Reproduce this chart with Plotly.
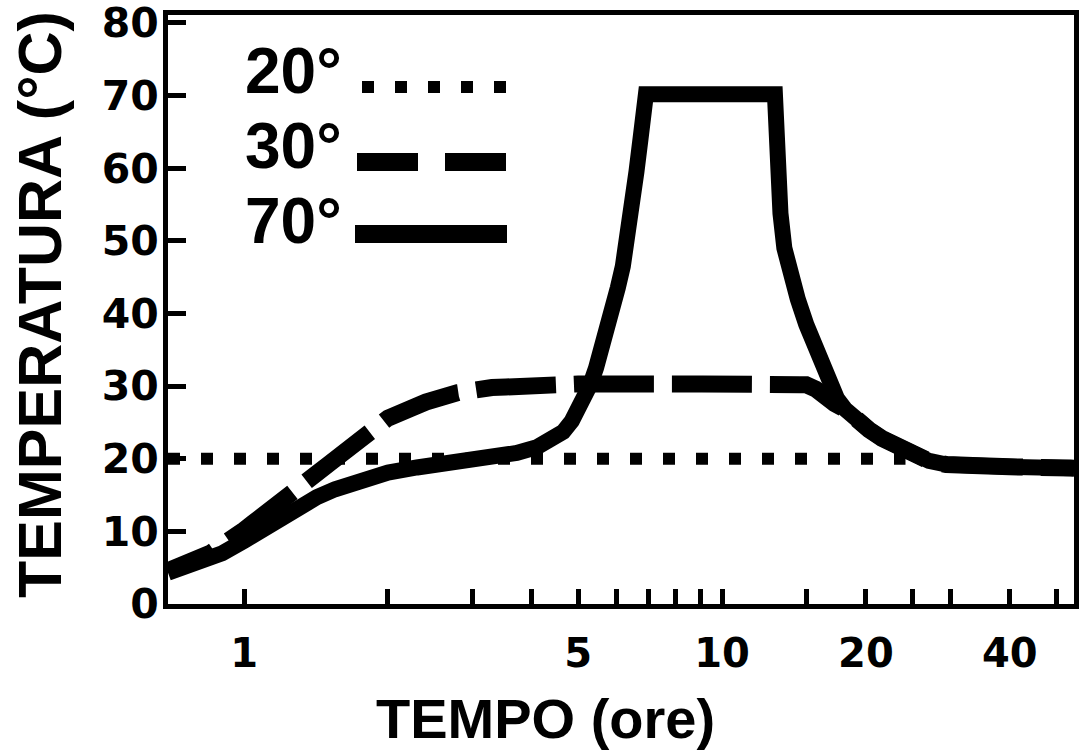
import plotly.graph_objects as go
import math

# ---- data ----
hours_20 = [0.693, 24.2]
temp_20 = [20.0, 20.0]

hours_30 = [0.693, 0.85, 1.0, 1.2, 1.4, 1.6, 1.8, 2.0, 2.4, 2.8, 3.3, 4.0, 5.0, 8.0,
            12.0, 15.0, 15.7, 16.4, 17.2, 18.1, 19.0, 20.3, 21.6, 23.1, 25.0, 27.1, 29.5,
            31.9, 40.0, 54.5]
temp_30 = [4.6, 7.0, 10.2, 14.2, 18.0, 21.0, 23.5, 25.6, 27.8, 29.1, 29.8, 30.2, 30.3, 30.3,
           30.3, 30.2, 29.6, 28.4, 27.6, 26.8, 25.3, 24.0, 22.8, 21.7, 20.6, 19.7, 19.2,
           19.0, 18.9, 18.7]

hours_70 = [0.693, 0.8, 0.9, 1.0, 1.1, 1.2, 1.3, 1.42, 1.55, 1.7, 1.85, 2.0, 2.3, 2.7, 3.2,
            3.72, 4.1, 4.4, 4.65, 4.85, 5.0, 5.15, 5.3, 5.45, 5.6, 5.75, 5.9, 6.05, 6.2,
            6.35, 6.5, 6.62, 6.75, 6.85, 6.93, 12.9, 12.95, 13.0, 13.25, 13.5, 13.9, 14.4,
            15.0, 15.8, 16.3, 16.8, 17.4, 18.1, 19.0, 20.3, 21.6, 23.1, 25.0, 27.1, 29.5,
            31.9, 40.0, 54.5]
temp_70 = [4.3, 5.6, 7.0, 8.7, 10.4, 12.0, 13.4, 14.7, 15.8, 16.8, 17.5, 18.1, 18.8, 19.4,
           20.0, 20.8, 21.6, 22.5, 23.7, 25.2, 26.6, 28.3, 30.2, 32.5, 35.0, 37.5, 40.3,
           43.5, 46.5, 50.5, 55.0, 59.5, 64.0, 67.5, 70.2, 70.2, 64.5, 59.5, 53.8, 49.0,
           45.2, 42.0, 38.5, 35.0, 32.3, 30.2, 28.3, 26.8, 25.3, 24.0, 22.8, 21.7, 20.6,
           19.7, 19.2, 19.0, 18.9, 18.7]

x_tickvals = [1, 2, 3, 4, 5, 6, 7, 8, 9, 10, 15, 20, 25, 30, 40, 50]
x_ticktext = ['1', '', '', '', '5', '', '', '', '', '10', '', '20', '', '', '40', '']
y_tickvals = [0, 10, 20, 30, 40, 50, 60, 70, 80]

legend_labels = ['20°', '30°', '70°']

x_title = 'TEMPO (ore)'
y_title = 'TEMPERATURA (°C)'

# ---- figure ----
BLACK = '#000000'
fig = go.Figure()
fig.add_trace(go.Scatter(x=hours_20, y=temp_20, mode='lines',
                         line=dict(color=BLACK, width=12, dash='12px,21px'),
                         showlegend=False, hoverinfo='skip'))
fig.add_trace(go.Scatter(x=hours_30, y=temp_30, mode='lines',
                         line=dict(color=BLACK, width=17, dash='50px,18px,30px,0px'),
                         showlegend=False, hoverinfo='skip'))
fig.add_trace(go.Scatter(x=hours_70, y=temp_70, mode='lines',
                         line=dict(color=BLACK, width=16),
                         showlegend=False, hoverinfo='skip'))

L, R, T, B = 168, 1074, 15, 604
W, H = 1085, 754

def px(x):
    return (x - L) / (R - L)

def py(y):
    return (B - y) / (B - T)

tick_font = dict(family='DejaVu Sans', size=41, color=BLACK, weight='bold')

fig.update_xaxes(type='log', range=[math.log10(0.693), math.log10(54.5)],
                 tickvals=x_tickvals, ticktext=x_ticktext,
                 ticks='inside', ticklen=15, tickwidth=5, tickcolor=BLACK,
                 showline=True, linewidth=5, linecolor=BLACK, mirror=True,
                 showgrid=False, zeroline=False, tickfont=dict(tick_font, size=40),
                 ticklabelstandoff=10, automargin=False, ticklabeloverflow='allow')
fig.update_yaxes(range=[0, 81.1], tickvals=y_tickvals,
                 ticks='inside', ticklen=18, tickwidth=5, tickcolor=BLACK,
                 showline=True, linewidth=5, linecolor=BLACK, mirror=True,
                 showgrid=False, zeroline=False, tickfont=tick_font,
                 ticklabelstandoff=-4, automargin=False, ticklabeloverflow='allow')

title_font = dict(family='Liberation Sans, Arial', color=BLACK, weight='bold')
annotations = [
    dict(text=y_title, x=px(40), y=py(305), xref='paper', yref='paper',
         textangle=-90, showarrow=False, xanchor='center', yanchor='middle',
         font=dict(title_font, size=61)),
    dict(text=x_title, x=px(545), y=py(718), xref='paper', yref='paper',
         showarrow=False, xanchor='center', yanchor='middle',
         font=dict(title_font, size=56)),
]
leg_font = dict(family='Liberation Sans, Arial', size=64, color=BLACK, weight='bold')
for lab, yc in zip(legend_labels, [71, 146, 221]):
    annotations.append(dict(text=lab, x=px(243), y=py(yc), xref='paper', yref='paper',
                            showarrow=False, xanchor='left', yanchor='middle',
                            font=leg_font))

shapes = [
    dict(type='line', xref='paper', yref='paper', x0=px(362), x1=px(506), y0=py(87), y1=py(87),
         line=dict(color=BLACK, width=12, dash='12px,21px')),
    dict(type='line', xref='paper', yref='paper', x0=px(357), x1=px(507), y0=py(162), y1=py(162),
         line=dict(color=BLACK, width=18, dash='61px,27px')),
    dict(type='line', xref='paper', yref='paper', x0=px(355), x1=px(507), y0=py(234), y1=py(234),
         line=dict(color=BLACK, width=18)),
]

fig.update_layout(template='none', width=W, height=H,
                  margin=dict(l=L, r=W - R, t=T, b=H - B, pad=0, autoexpand=False),
                  paper_bgcolor='white', plot_bgcolor='white',
                  annotations=annotations, shapes=shapes, showlegend=False)

fig.write_html('out.html')
